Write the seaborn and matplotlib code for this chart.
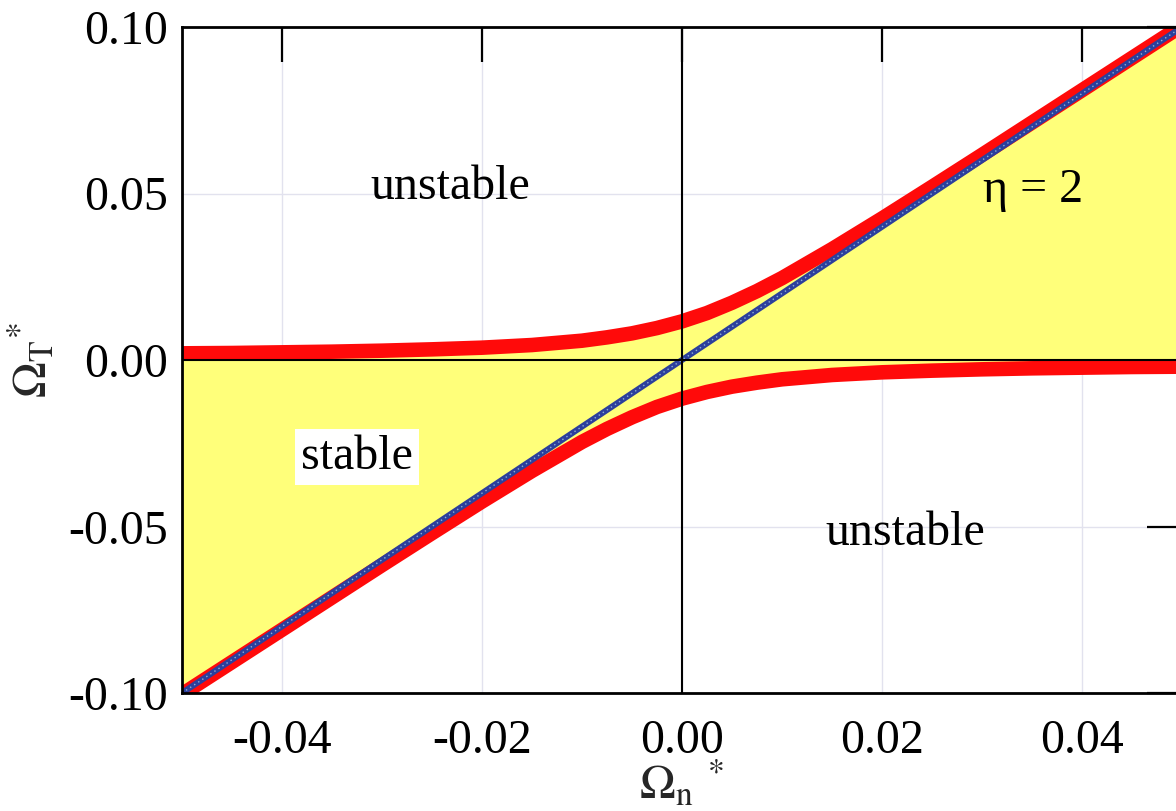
import matplotlib
matplotlib.use("Agg")
import matplotlib.pyplot as plt
import seaborn as sns
import pandas as pd

# ---- data ----
omega_n = [-0.05, -0.045, -0.04, -0.035, -0.03, -0.025, -0.02, -0.015, -0.01,
           -0.0075, -0.005, -0.0025, 0.0, 0.0025, 0.005, 0.0075, 0.01, 0.015,
           0.02, 0.025, 0.03, 0.035, 0.04, 0.045, 0.05]
upper_branch = [0.0020, 0.0021, 0.0023, 0.0025, 0.0028, 0.0032, 0.0037, 0.0045,
                0.0058, 0.0068, 0.0080, 0.0096, 0.0116, 0.0141, 0.0172, 0.0207,
                0.0246, 0.0333, 0.0425, 0.0520, 0.0616, 0.0713, 0.0810, 0.0907,
                0.1004]
lower_branch = [-0.1004, -0.0907, -0.0810, -0.0713, -0.0616, -0.0520, -0.0425,
                -0.0333, -0.0246, -0.0207, -0.0172, -0.0141, -0.0116, -0.0096,
                -0.0080, -0.0068, -0.0058, -0.0045, -0.0037, -0.0032, -0.0028,
                -0.0025, -0.0023, -0.0021, -0.0020]
diag_x = [-0.05, 0.05]
diag_y = [-0.10, 0.10]

xticks = [-0.04, -0.02, 0.00, 0.02, 0.04]
yticks = [-0.10, -0.05, 0.00, 0.05, 0.10]
xticklabels = ["-0.04", "-0.02", "0.00", "0.02", "0.04"]
yticklabels = ["-0.10", "-0.05", "0.00", "0.05", "0.10"]

labels = ["unstable", "stable", "unstable", "\u03b7 = 2"]
label_x = [-0.0232, -0.0325, 0.0223, 0.0351]
label_y = [0.0520, -0.0291, -0.0520, 0.0511]

curves = pd.DataFrame({"x": omega_n, "upper": upper_branch, "lower": lower_branch})
diag = pd.DataFrame({"x": diag_x, "y": diag_y})

sns.set_theme(style="white")
plt.rcParams["font.family"] = ["Liberation Serif", "DejaVu Serif"]
plt.rcParams["mathtext.fontset"] = "stix"

FS = 34.5

fig = plt.figure(figsize=(11.76, 8.11), dpi=100)
ax = fig.add_axes([182 / 1176, (811 - 693) / 811, 1000 / 1176, 666 / 811])
ax.set_xlim(-0.05, 0.05)
ax.set_ylim(-0.10, 0.10)

# grid
for t in xticks:
    ax.axvline(t, color="#e2e2ee", lw=1.0, zorder=0)
for t in yticks:
    ax.axhline(t, color="#e2e2ee", lw=1.0, zorder=0)

ax.fill_between(curves["x"], curves["lower"], curves["upper"],
                color="#ffff7a", lw=0, zorder=1)

sns.lineplot(data=curves, x="x", y="upper", color="#ff0a0a", lw=10.5,
             ax=ax, zorder=3, solid_capstyle="butt")
sns.lineplot(data=curves, x="x", y="lower", color="#ff0a0a", lw=10.5,
             ax=ax, zorder=3, solid_capstyle="butt")
sns.lineplot(data=diag, x="x", y="y", color="#2c3f9c", lw=4.3, ax=ax, zorder=4)
sns.lineplot(data=diag, x="x", y="y", color="#8fb0d8", lw=1.0, ax=ax, zorder=4.1,
             linestyle=(0, (1, 2.5)))

ax.axhline(0, color="black", lw=1.5, zorder=5)
ax.axvline(0, color="black", lw=1.5, zorder=5)

for s in ax.spines.values():
    s.set_color("black")
    s.set_linewidth(2)
    s.set_zorder(6)

ax.set_xticks(xticks)
ax.set_xticklabels(xticklabels)
ax.set_yticks(yticks)
ax.set_yticklabels(yticklabels)
ax.tick_params(axis="both", which="major", direction="in", length=25, width=1.6,
               color="black", labelsize=FS, top=True, right=True,
               labelcolor="black")
ax.tick_params(axis="x", pad=19)
ax.tick_params(axis="y", pad=10)

ax.set_xlabel(r"$\Omega_{\mathrm{n}}{}^{\ *}$", fontsize=FS, labelpad=-3)
ax.set_ylabel(r"$\Omega_{\mathrm{T}}{}^{*}$", fontsize=FS, labelpad=8)

for t, x, y in zip(labels, label_x, label_y):
    kw = {}
    if t == "stable":
        kw["bbox"] = dict(facecolor="white", edgecolor="none", pad=4)
    ax.text(x, y, t, ha="center", va="center", fontsize=FS, color="black",
            zorder=7, **kw)

fig.savefig("out.png", dpi=100)
